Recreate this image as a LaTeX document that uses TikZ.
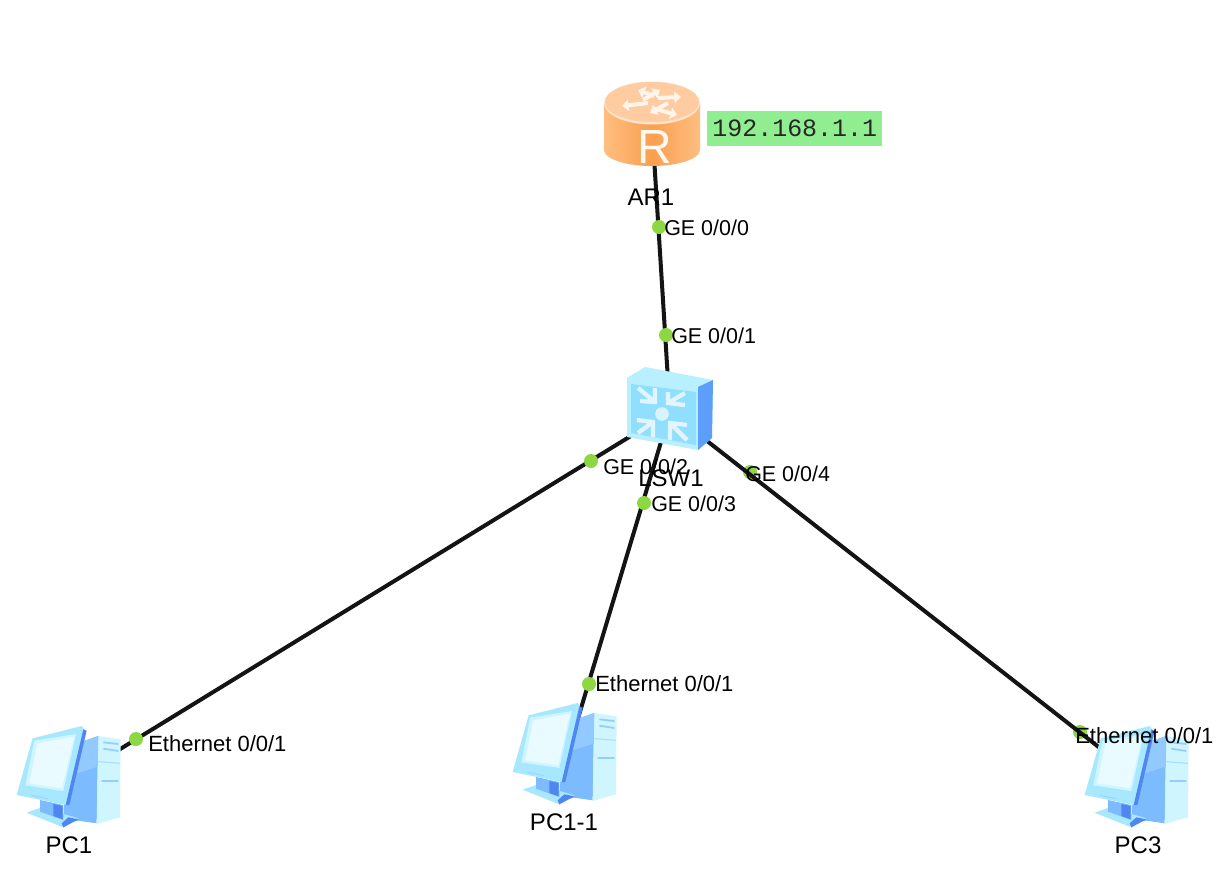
\documentclass[tikz,border=0pt]{standalone}
\usepackage{fontspec}
\setmainfont{Liberation Sans}
\newfontfamily\ipfont{Liberation Mono}
\usetikzlibrary{arrows.meta}
\definecolor{portgreen}{HTML}{8CD742}
\definecolor{ipgreen}{HTML}{90EE90}
\definecolor{pcpale}{HTML}{CFF6FF}
\definecolor{pcedge}{HTML}{A8E8FF}
\definecolor{pcblue}{HTML}{7DBBFF}
\definecolor{pcdark}{HTML}{4F86F0}
\definecolor{swtop}{HTML}{B4EEFF}
\definecolor{swfront}{HTML}{B8F0FF}
\definecolor{swface}{HTML}{90DFFF}
\definecolor{swside}{HTML}{5C9EFA}
\definecolor{rtside}{HTML}{FFBE80}
\definecolor{rtmid}{HTML}{F9A050}
\definecolor{rttop}{HTML}{FFCBA0}
\definecolor{rtrim}{HTML}{FFE3CC}
\tikzset{
  device/.style={inner sep=0pt,outer sep=0pt,minimum width=#1,minimum height=#1},
  link/.style={line width=3pt,black!92},
  portdot/.style={circle,fill=portgreen,inner sep=0pt,minimum size=10.5pt},
  portlabel/.style={anchor=west,inner sep=0pt,font=\fontsize{16.1}{18}\selectfont,text=black},
  ethlabel/.style={portlabel,font=\fontsize{16.5}{18}\selectfont},
  namelabel/.style={inner sep=0pt,font=\fontsize{18}{20}\selectfont,text=black},
  iptag/.style={anchor=west,fill=ipgreen,inner sep=0pt,minimum width=131.25pt,minimum height=26.25pt,
    font=\ipfont\fontsize{18.7}{20}\selectfont,text=black!85,align=center},
  routerarrow/.style={line width=3pt,draw=white!92!orange,-{Triangle[length=5pt,width=8.4pt]}},
  swchevron/.style={line width=3.2pt,draw=white!88!cyan,line join=miter},
  pics/pcicon/.style={code={
    \begin{scope}[x=.25pt,y=-.25pt]
      % tower body
      \fill[pcblue] (200,110)--(245,95)--(295,78)--(290,340)--(235,332)--(190,340)--cycle;
      \fill[pcpale] (295,78)--(362,88)--(360,322)--(290,342)--cycle;
      \draw[pcblue!70!pcpale,line width=1.3pt] (310,97)--(355,102) (310,116)--(355,123) (305,213)--(355,213);
      \fill[pcblue!75!pcpale] (245,95)--(295,78)--(293,170)--(230,190)--cycle;
      \draw[pcblue!45!pcpale,line width=.8pt] (295,155)--(360,160);
      % stand
      \fill[pcedge] (80,308)--(125,292)--(235,325)--(190,352)--cycle;
      \fill[pcblue] (120,270)--(190,285)--(190,330)--(120,305)--cycle;
      \fill[pcdark] (160,282)--(188,288)--(188,328)--(160,318)--cycle;
      \fill[pcdark] (190,352)--(235,328)--(205,322)--(185,340)--cycle;
      % monitor
      \fill[pcedge] (98,85)--(245,48)--(252,58)--(198,285)--(50,255)--cycle;
      \fill[pcdark] (250,58)--(260,62)--(208,285)--(197,285)--cycle;
      \fill[pcpale] (103,92)--(228,72)--(190,243)--(76,226)--cycle;
      \fill[white!55!pcpale] (112,100)--(222,80)--(186,235)--(88,220)--cycle;
      \draw[pcblue!60!pcpale,line width=.8pt] (95,256)--(145,266);
    \end{scope}
  }}
}
\begin{document}
\begin{tikzpicture}[x=.75pt,y=-.75pt]
\useasboundingbox (0,0) rectangle (1232,885);
\fill[white] (0,0) rectangle (1232,885);

% device anchors (the links stop at these borders, inside each icon)
\node[device=1pt] (ar1) at (652,125) {};
\node[device=1pt] (lsw1) at (670,412) {};
\node[device=45pt] (pc1) at (68,781) {};
\node[device=45pt] (pc2) at (567,755) {};
\node[device=45pt] (pc3) at (1137,777) {};

% ports lying under their links
\node[portdot] (p4) at (750,472) {};
\node[portdot] (p7) at (1080,732) {};

% links
\draw[link] (ar1.center) -- (lsw1.center);
\draw[link] (lsw1.center) -- (pc1);
\draw[link] (lsw1.center) -- (pc2);
\draw[link] (lsw1.center) -- (pc3);

% router icon
\shade[left color=rtside,right color=rtside,middle color=rtmid]
  (604,104) -- (604,150) arc[start angle=180,end angle=0,x radius=48,y radius=16] -- (700,104) -- cycle;
\fill[rtrim] (652,103) ellipse[x radius=48,y radius=21.5];
\fill[rttop] (652,102) ellipse[x radius=47,y radius=20];
\draw[routerarrow] (654,96)--(638,90);
\draw[routerarrow] (643,100)--(660,90);
\draw[routerarrow] (658,98)--(681,97);
\draw[routerarrow] (668,103)--(650,113);
\draw[routerarrow] (648,103)--(622,106);
\draw[routerarrow] (652,108)--(677,115);
\node[inner sep=0pt,text=white!95!orange,font=\fontsize{36}{40}\selectfont] (rmark) at (655,147) {R};

% switch icon
\fill[swfront] (627,378)--(645,367)--(713,380)--(712,438)--(698,450)--(627,437)--cycle;
\fill[swface] (631,384)--(696,392)--(696,445)--(631,433)--cycle;
\fill[swside] (698,387)--(713,380)--(712,438)--(698,450)--cycle;
\fill[white!85!cyan] (662,414) circle[radius=6.8];
\draw[swchevron] (638,388)--(655,402) (655,388)--(655,402)--(640,401);
\draw[swchevron] (685,393)--(668,403) (668,392)--(668,403)--(685,405);
\draw[swchevron] (638,433)--(653,422) (637,420)--(653,422)--(653,437);
\draw[swchevron] (687,440)--(670,423) (670,440)--(670,423)--(687,425);

% PC icons
\pic at (0,710) {pcicon};
\pic at (496,687) {pcicon};
\pic at (1068,710) {pcicon};

% ports
\node[portdot] (p0) at (659,227) {};
\node[portdot] (p1) at (666,335) {};
\node[portdot] (p2) at (591,461) {};
\node[portdot] (p3) at (644,503) {};
\node[portdot] (p5) at (136,739) {};
\node[portdot] (p6) at (589,684) {};

% device names
\node[namelabel] (n1) at (651,197) {AR1};
\node[namelabel] (n2) at (671,478) {LSW1};
\node[namelabel] (n3) at (69,845) {PC1};
\node[namelabel] (n4) at (564,822) {PC1-1};
\node[namelabel] (n5) at (1138,845) {PC3};

% port labels
\node[portlabel] (l0) at (664,228) {GE 0/0/0};
\node[portlabel] (l1) at (671,336) {GE 0/0/1};
\node[portlabel] (l2) at (603,467) {GE 0/0/2};
\node[portlabel] (l3) at (651,504) {GE 0/0/3};
\node[portlabel] (l4) at (745,474) {GE 0/0/4};
\node[ethlabel] (l5) at (148,744) {Ethernet 0/0/1};
\node[ethlabel] (l6) at (595,684) {Ethernet 0/0/1};
\node[ethlabel] (l7) at (1075,736) {Ethernet 0/0/1};

% address tag
\node[iptag] (ip) at (707,128.5) {192.168.1.1};
\end{tikzpicture}
\end{document}
